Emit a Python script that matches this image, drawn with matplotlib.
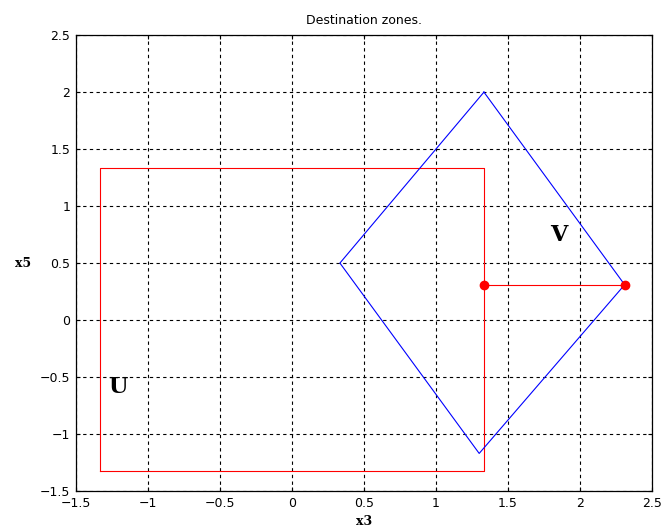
import matplotlib
matplotlib.use("Agg")
from matplotlib import pyplot as plt

# Zone U: square in the (x3, x5) plane
u_x = [-1.333, 1.333, 1.333, -1.333, -1.333]
u_y = [-1.32, -1.32, 1.333, 1.333, -1.32]

# Zone V: tilted quadrilateral
v_x = [1.333, 2.31, 1.30, 0.333, 1.333]
v_y = [2.0, 0.31, -1.17, 0.5, 2.0]

# Segment joining the two zones
seg_x = [1.333, 2.31]
seg_y = [0.31, 0.31]

ticks_x = [-1.5, -1, -0.5, 0, 0.5, 1, 1.5, 2, 2.5]
ticks_y = [-1.5, -1, -0.5, 0, 0.5, 1, 1.5, 2, 2.5]
tick_labels = ["\u22121.5", "\u22121", "\u22120.5", "0", "0.5", "1", "1.5", "2", "2.5"]

fig = plt.figure(figsize=(6.66, 5.32), dpi=100)
ax = fig.add_axes([0.114, 0.077, 0.865, 0.857])

ax.plot(u_x, u_y, color="red", lw=0.8)
ax.plot(v_x, v_y, color="blue", lw=0.8)
ax.plot(seg_x, seg_y, color="red", lw=0.8, marker="o", markersize=6)

ax.text(-1.21, -0.59, "U", fontsize=16, fontweight="bold", family="DejaVu Serif",
        ha="center", va="center")
ax.text(1.85, 0.75, "V", fontsize=16, fontweight="bold", family="DejaVu Serif",
        ha="center", va="center")

ax.set_xlim(-1.5, 2.5)
ax.set_ylim(-1.5, 2.5)
ax.set_xticks(ticks_x)
ax.set_xticklabels(tick_labels)
ax.set_yticks(ticks_y)
ax.set_yticklabels(tick_labels)
ax.tick_params(direction="in", length=3, labelsize=9, top=True, right=True, pad=4)
ax.grid(True, color="black", linestyle=(0, (3, 3)), linewidth=0.8)
for s in ax.spines.values():
    s.set_linewidth(0.9)

ax.set_title("Destination zones.", fontsize=9, pad=8)
ax.set_xlabel("x3", fontsize=9, fontweight="bold", family="DejaVu Serif", labelpad=4)
ax.set_ylabel("x5", fontsize=9, fontweight="bold", family="DejaVu Serif", rotation=0,
              labelpad=12, va="center")

fig.savefig("out.png", dpi=100)
